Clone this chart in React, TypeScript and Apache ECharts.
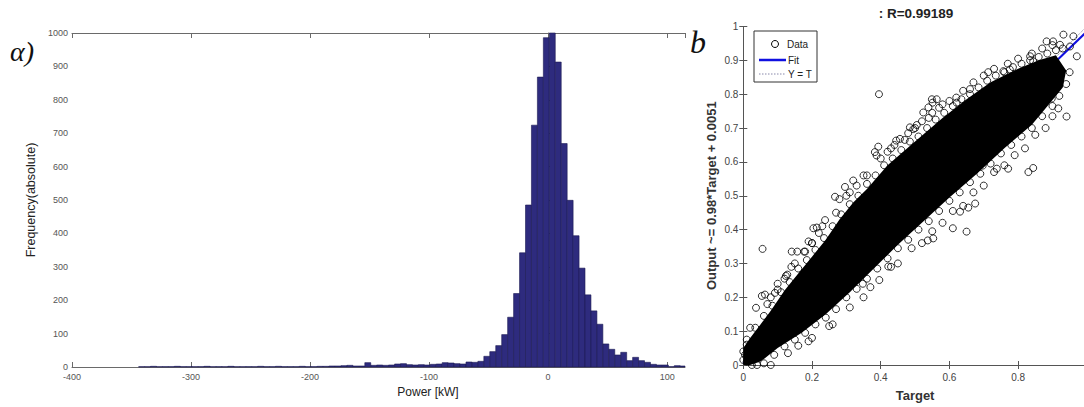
import React, { useEffect, useRef } from 'react';
import * as echarts from 'echarts';

// ---------- Panel a) histogram ----------
const histBinStart = -344; // kW, left edge of first non-empty bin
const histBinWidth = 5; // kW
const histCounts = [
  1, 1, 2, 1, 1, 1, 2, 1, 1, 1, 1, 2, 1, 1, 1, 2, 1, 1, 1, 1, 2, 1, 1, 2, 1, 1, 1, 2, 1, 1, 2, 2,
  3, 3, 4, 5, 3, 3,
  13,
  5, 6, 5, 6,
  9, 10, 7, 6, 7, 6,
  8, 9, 13, 12, 10, 9, 15, 14,
  17, 32, 46, 64, 97, 149, 220, 342, 485, 724, 868, 986, 1000, 913, 669, 499, 393, 296, 216, 168,
  128, 69, 53, 36, 44, 19, 29, 19, 14, 8, 6, 6, 1, 4, 3,
];
const histXTicks = { min: -400, max: 115, step: 100 };
const histYTicks = { min: 0, max: 1000, step: 100 };

// ---------- Panel b) regression scatter ----------
const fitSlope = 0.98;
const fitIntercept = 0.0051;
const rValue = '0.99189';
const legendLabels = ['Data', 'Fit', 'Y = T'];

// solid, fully overlapped part of the cloud (Target, Output)
const coreUpper = [
  [0.0, 0.05], [0.02, 0.08], [0.05, 0.12], [0.08, 0.16], [0.12, 0.22], [0.16, 0.27], [0.2, 0.32],
  [0.24, 0.37], [0.28, 0.43], [0.32, 0.48], [0.36, 0.52], [0.42, 0.59], [0.5, 0.66], [0.58, 0.73],
  [0.65, 0.785], [0.72, 0.835], [0.8, 0.875], [0.86, 0.9], [0.91, 0.915],
];
const coreLower = [
  [0.94, 0.87], [0.93, 0.82], [0.89, 0.77], [0.84, 0.71], [0.76, 0.64], [0.68, 0.565], [0.6, 0.495],
  [0.52, 0.42], [0.45, 0.355], [0.38, 0.285], [0.31, 0.215], [0.24, 0.15], [0.17, 0.095], [0.1, 0.05],
  [0.05, 0.01], [0.02, 0.0], [0.0, 0.0],
];
// circles on the upper edge of the cloud
const upperEdgePoints = [
  [0.01, 0.075], [0.035, 0.11], [0.06, 0.145], [0.085, 0.175], [0.11, 0.215], [0.135, 0.245],
  [0.16, 0.285], [0.185, 0.31], [0.21, 0.34], [0.235, 0.375], [0.26, 0.41], [0.285, 0.445],
  [0.31, 0.475], [0.335, 0.5], [0.36, 0.535], [0.385, 0.56], [0.41, 0.59], [0.435, 0.61],
  [0.46, 0.635], [0.485, 0.66], [0.51, 0.675], [0.535, 0.7], [0.56, 0.725], [0.585, 0.745],
  [0.61, 0.765], [0.635, 0.785], [0.66, 0.8], [0.685, 0.82], [0.71, 0.84], [0.735, 0.855],
  [0.76, 0.865], [0.785, 0.88], [0.81, 0.89], [0.835, 0.9], [0.86, 0.91], [0.885, 0.92],
  [0.91, 0.93], [0.93, 0.935],
  [0.02, 0.11], [0.07, 0.18], [0.1, 0.24], [0.15, 0.3], [0.2, 0.36], [0.23, 0.41], [0.27, 0.45],
  [0.31, 0.51], [0.35, 0.56], [0.4, 0.61], [0.43, 0.64], [0.47, 0.665], [0.5, 0.7], [0.54, 0.73],
  [0.57, 0.76], [0.6, 0.78], [0.64, 0.81], [0.67, 0.835], [0.7, 0.855], [0.73, 0.875], [0.77, 0.89],
  [0.8, 0.905], [0.84, 0.92], [0.87, 0.935], [0.9, 0.945],
  [0.08, 0.2], [0.12, 0.255], [0.14, 0.29], [0.18, 0.335], [0.22, 0.39], [0.28, 0.49], [0.3, 0.5],
  [0.33, 0.53], [0.36, 0.56], [0.42, 0.63], [0.44, 0.65], [0.48, 0.685], [0.52, 0.72], [0.55, 0.745],
  [0.58, 0.77], [0.62, 0.79], [0.66, 0.815],
];
// circles on the lower edge of the cloud
const lowerEdgePoints = [
  [0.005, 0.03], [0.01, 0.01], [0.015, 0.045], [0.0, 0.015], [0.025, 0.0], [0.03, 0.02],
  [0.0, 0.04], [0.01, 0.06], [0.04, 0.0],
  [0.06, 0.005], [0.09, 0.03], [0.12, 0.055], [0.15, 0.075], [0.18, 0.095], [0.21, 0.12],
  [0.24, 0.14], [0.27, 0.165], [0.3, 0.2], [0.33, 0.225], [0.36, 0.255], [0.39, 0.285],
  [0.42, 0.315], [0.45, 0.345], [0.48, 0.37], [0.51, 0.4], [0.54, 0.425], [0.57, 0.455],
  [0.6, 0.485], [0.63, 0.51], [0.66, 0.54], [0.69, 0.565], [0.72, 0.595], [0.75, 0.625],
  [0.78, 0.65], [0.81, 0.675], [0.84, 0.7], [0.87, 0.735], [0.9, 0.765], [0.92, 0.795],
  [0.94, 0.83], [0.95, 0.865],
  [0.08, 0.0], [0.13, 0.035], [0.19, 0.07], [0.25, 0.115], [0.31, 0.17], [0.37, 0.23],
  [0.43, 0.29], [0.49, 0.345], [0.55, 0.395], [0.61, 0.455], [0.67, 0.51], [0.73, 0.57],
  [0.79, 0.62], [0.85, 0.68], [0.9, 0.735],
  [0.2, 0.08], [0.26, 0.12], [0.35, 0.2], [0.45, 0.3], [0.52, 0.36], [0.58, 0.42], [0.64, 0.47],
  [0.7, 0.53], [0.76, 0.59], [0.82, 0.64], [0.88, 0.7],
];
// isolated circles
const outlierPoints = [
  [0.037, 0.169], [0.056, 0.343], [0.063, 0.208], [0.054, 0.204], [0.092, 0.213], [0.1, 0.223],
  [0.124, 0.263], [0.128, 0.267], [0.141, 0.335], [0.157, 0.335], [0.177, 0.335], [0.19, 0.365],
  [0.2, 0.36], [0.204, 0.404], [0.214, 0.406], [0.238, 0.428], [0.267, 0.497], [0.296, 0.526],
  [0.32, 0.545], [0.383, 0.629], [0.388, 0.619], [0.393, 0.645], [0.395, 0.8], [0.445, 0.663],
  [0.456, 0.668], [0.485, 0.702], [0.495, 0.697], [0.505, 0.709], [0.524, 0.746], [0.539, 0.761],
  [0.549, 0.785], [0.551, 0.775], [0.563, 0.785], [0.611, 0.738], [0.621, 0.775], [0.665, 0.77],
  [0.679, 0.785], [0.713, 0.865], [0.757, 0.868], [0.776, 0.873], [0.835, 0.912], [0.844, 0.897],
  [0.883, 0.956], [0.902, 0.956], [0.922, 0.946], [0.932, 0.976], [0.951, 0.941], [0.961, 0.971],
  [0.971, 0.912],
  [0.16, 0.057], [0.348, 0.24], [0.396, 0.251], [0.422, 0.291], [0.537, 0.368], [0.553, 0.374],
  [0.61, 0.404], [0.65, 0.394], [0.631, 0.453], [0.655, 0.465], [0.675, 0.477], [0.697, 0.589],
  [0.738, 0.58], [0.771, 0.58], [0.83, 0.57], [0.844, 0.582], [0.898, 0.787], [0.917, 0.758],
  [0.941, 0.734],
];

const SANS = '"Liberation Sans", Arial, Helvetica, sans-serif';
const SERIF = '"Liberation Serif", "Times New Roman", serif';

function buildOption(): any {
  const histData = histCounts.map((c, i) => {
    const start = histBinStart + i * histBinWidth;
    return [start, start + histBinWidth, c];
  });
  const corePolygon = [...coreUpper, ...coreLower];
  const scatterData = [...upperEdgePoints, ...lowerEdgePoints, ...outlierPoints];

  const histAxisLine = { show: true, lineStyle: { color: '#6a6a6a', width: 1 } };
  const scAxisLine = { show: true, lineStyle: { color: '#555', width: 1 } };
  const plain = (v: number) => String(Math.round(v * 100) / 100);

  // legend box (drawn as graphics)
  const lgX = 754, lgY = 31, lgW = 63, lgH = 51;
  const legendGraphic = {
    type: 'group',
    z: 100,
    children: [
      { type: 'rect', shape: { x: lgX, y: lgY, width: lgW, height: lgH }, style: { fill: '#fff', stroke: '#333', lineWidth: 1 } },
      { type: 'circle', shape: { cx: 775, cy: 44, r: 3.5 }, style: { fill: 'none', stroke: '#000', lineWidth: 1 } },
      { type: 'text', x: 787, y: 44, style: { text: legendLabels[0], fontSize: 10, fill: '#222', fontFamily: SANS, verticalAlign: 'middle' } },
      { type: 'line', shape: { x1: 759, y1: 60, x2: 786, y2: 60 }, style: { stroke: '#1010e0', lineWidth: 2.5 } },
      { type: 'text', x: 788, y: 60, style: { text: legendLabels[1], fontSize: 10, fill: '#222', fontFamily: SANS, verticalAlign: 'middle' } },
      { type: 'line', shape: { x1: 759, y1: 74, x2: 786, y2: 74 }, style: { stroke: '#8888aa', lineWidth: 1, lineDash: [1.5, 1.5] } },
      { type: 'text', x: 788, y: 74, style: { text: legendLabels[2], fontSize: 10, fill: '#222', fontFamily: SANS, verticalAlign: 'middle' } },
    ],
  };

  return {
    animation: false,
    backgroundColor: '#fff',
    textStyle: { fontFamily: SANS },
    grid: [
      { left: 72, top: 33, width: 613, height: 334 },
      { left: 743.3, top: 26.5, width: 343.5, height: 341.2 },
    ],
    xAxis: [
      {
        gridIndex: 0, type: 'value', position: 'bottom',
        min: histXTicks.min, max: histXTicks.max, interval: histXTicks.step,
        axisLine: histAxisLine,
        axisTick: { show: true, inside: true, length: 5, lineStyle: { color: '#6a6a6a' } },
        axisLabel: { fontSize: 9, color: '#555', margin: 5, showMaxLabel: false, formatter: plain },
        splitLine: { show: false },
      },
      {
        gridIndex: 0, type: 'value', position: 'top',
        min: histXTicks.min, max: histXTicks.max, interval: histXTicks.step,
        axisLine: histAxisLine,
        axisTick: { show: true, inside: true, length: 5, lineStyle: { color: '#6a6a6a' } },
        axisLabel: { show: false },
        splitLine: { show: false },
      },
      {
        gridIndex: 1, type: 'value', position: 'bottom',
        min: 0, max: 1, interval: 0.2,
        name: 'Target', nameLocation: 'middle', nameGap: 24,
        nameTextStyle: { fontSize: 13, fontWeight: 'bold', color: '#333', fontFamily: SANS },
        axisLine: scAxisLine,
        axisTick: { show: true, inside: true, length: 4, lineStyle: { color: '#555' } },
        axisLabel: { fontSize: 10, color: '#444', margin: 7, showMaxLabel: false, formatter: plain },
        splitLine: { show: false },
      },
      {
        gridIndex: 1, type: 'value', position: 'top',
        min: 0, max: 1, interval: 0.2,
        axisLine: scAxisLine,
        axisTick: { show: true, inside: true, length: 4, lineStyle: { color: '#555' } },
        axisLabel: { show: false },
        splitLine: { show: false },
      },
    ],
    yAxis: [
      {
        gridIndex: 0, type: 'value', position: 'left',
        min: histYTicks.min, max: histYTicks.max, interval: histYTicks.step,
        name: 'Frequency(absolute)', nameLocation: 'middle', nameGap: 29,
        nameTextStyle: { fontSize: 12.5, color: '#222', fontFamily: SANS },
        axisLine: histAxisLine,
        axisTick: { show: true, inside: true, length: 5, lineStyle: { color: '#6a6a6a' } },
        axisLabel: { fontSize: 9, color: '#555', margin: 4, formatter: plain },
        splitLine: { show: false },
      },
      {
        gridIndex: 1, type: 'value', position: 'left',
        min: 0, max: 1, interval: 0.1,
        name: 'Output ~= ' + fitSlope + '*Target + ' + fitIntercept,
        nameLocation: 'middle', nameGap: 25,
        nameTextStyle: { fontSize: 13, fontWeight: 'bold', color: '#333', fontFamily: SANS },
        axisLine: scAxisLine,
        axisTick: { show: true, inside: true, length: 4, lineStyle: { color: '#555' } },
        axisLabel: { fontSize: 10, color: '#444', margin: 5, formatter: plain },
        splitLine: { show: false },
      },
      {
        gridIndex: 1, type: 'value', position: 'right',
        min: 0, max: 1, interval: 0.1,
        axisLine: scAxisLine,
        axisTick: { show: true, inside: true, length: 4, lineStyle: { color: '#555' } },
        axisLabel: { show: false },
        splitLine: { show: false },
      },
    ],
    series: [
      {
        type: 'custom',
        name: 'hist',
        xAxisIndex: 0,
        yAxisIndex: 0,
        data: histData,
        encode: { x: [0, 1], y: 2 },
        renderItem: (params: any, api: any) => {
          const p0 = api.coord([api.value(0), 0]);
          const p1 = api.coord([api.value(1), api.value(2)]);
          const cs = params.coordSys;
          const rect = echarts.graphic.clipRectByRect(
            { x: p0[0], y: p1[1], width: p1[0] - p0[0], height: p0[1] - p1[1] },
            { x: cs.x, y: cs.y, width: cs.width, height: cs.height }
          );
          if (!rect) return null;
          return {
            type: 'rect',
            shape: rect,
            style: { fill: '#2e2b7e', stroke: '#1b1a52', lineWidth: 0.6 },
          };
        },
        z: 2,
      },
      {
        type: 'scatter',
        name: 'Data',
        xAxisIndex: 2,
        yAxisIndex: 1,
        data: scatterData,
        symbol: 'circle',
        symbolSize: 7,
        itemStyle: { color: 'rgba(0,0,0,0)', borderColor: '#000', borderWidth: 1 },
        z: 4,
      },
      {
        type: 'custom',
        name: 'core',
        xAxisIndex: 2,
        yAxisIndex: 1,
        data: [[0.5, 0.5]],
        renderItem: (_params: any, api: any) => {
          const points = corePolygon.map((p) => api.coord(p));
          return { type: 'polygon', shape: { points }, style: { fill: '#000' } };
        },
        z: 3,
      },
      {
        type: 'line',
        name: 'Fit',
        xAxisIndex: 2,
        yAxisIndex: 1,
        data: [[0, fitIntercept], [1, fitSlope + fitIntercept]],
        symbol: 'none',
        lineStyle: { color: '#1010e0', width: 2 },
        z: 2,
      },
      {
        type: 'line',
        name: 'Y = T',
        xAxisIndex: 2,
        yAxisIndex: 1,
        data: [[0, 0], [1, 1]],
        symbol: 'none',
        lineStyle: { color: '#8888aa', width: 1, type: 'dotted' },
        z: 2,
      },
    ],
    graphic: [
      legendGraphic,
      {
        type: 'text', x: 916, y: 6,
        style: { text: ': R=' + rValue, fontSize: 13.5, fontWeight: 'bold', fill: '#222', fontFamily: SANS, align: 'center', verticalAlign: 'top' },
      },
      {
        type: 'text', x: 428, y: 386,
        style: { text: 'Power [kW]', fontSize: 12, fill: '#222', fontFamily: SANS, align: 'center', verticalAlign: 'top' },
      },
      {
        type: 'text', x: 10, y: 37,
        style: { text: 'α)', fontSize: 28, fontStyle: 'italic', fill: '#111', fontFamily: SERIF, verticalAlign: 'top' },
      },
      {
        type: 'text', x: 690, y: 26,
        style: { text: 'b', fontSize: 32, fontStyle: 'italic', fill: '#111', fontFamily: SERIF, verticalAlign: 'top' },
      },
    ],
  };
}

export default function App() {
  const ref = useRef<HTMLDivElement>(null);
  useEffect(() => {
    if (!ref.current) return;
    const chart = echarts.init(ref.current, null, { renderer: 'svg' });
    chart.setOption(buildOption());
    return () => chart.dispose();
  }, []);
  return (
    <div
      style={{
        position: 'fixed',
        left: 0,
        top: 0,
        width: 1084,
        height: 407,
        overflow: 'hidden',
        background: '#fff',
      }}
    >
      <div ref={ref} style={{ width: 1100, height: 407 }} />
    </div>
  );
}
